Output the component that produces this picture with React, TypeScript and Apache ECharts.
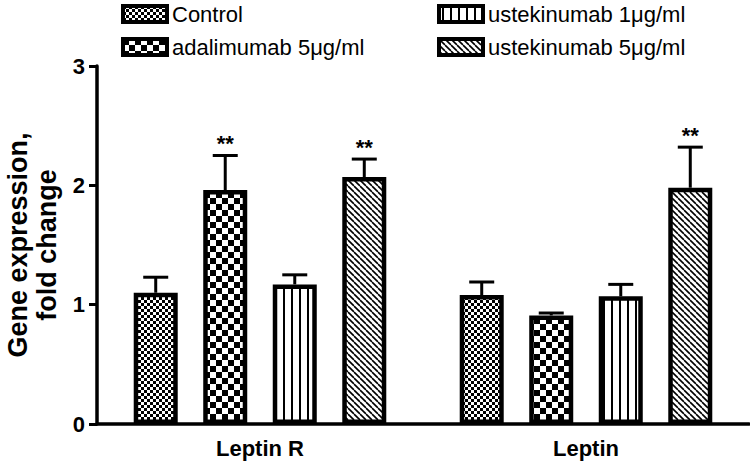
import React, { useEffect, useRef } from "react";
import * as echarts from "echarts";

const categories = ["Leptin R", "Leptin"];
const seriesNames = ["Control", "adalimumab 5μg/ml", "ustekinumab 1μg/ml", "ustekinumab 5μg/ml"];
const controlVals = [1.1, 1.08];
const adalimumabVals = [1.96, 0.91];
const ust1Vals = [1.17, 1.07];
const ust5Vals = [2.07, 1.98];
const controlErrTop = [1.23, 1.19];
const adalimumabErrTop = [2.25, 0.93];
const ust1ErrTop = [1.25, 1.17];
const ust5ErrTop = [2.22, 2.32];
const controlSig = ["", ""];
const adalimumabSig = ["**", ""];
const ust1Sig = ["", ""];
const ust5Sig = ["**", "**"];
const yTicks = [0, 1, 2, 3];

const FONT = "Arial, 'Liberation Sans', Helvetica, sans-serif";

function makePattern(kind: string) {
  const c = document.createElement("canvas");
  let w = 6, h = 6;
  if (kind === "fine") { w = 6; h = 6; }
  if (kind === "coarse") { w = 12; h = 12; }
  if (kind === "vert") { w = 8; h = 8; }
  if (kind === "diag") { w = 6; h = 6; }
  c.width = w; c.height = h;
  const ctx = c.getContext("2d")!;
  ctx.fillStyle = "#fff";
  ctx.fillRect(0, 0, w, h);
  ctx.fillStyle = "#000";
  if (kind === "fine") {
    ctx.fillRect(0, 0, 3, 3);
    ctx.fillRect(3, 3, 3, 3);
  } else if (kind === "coarse") {
    ctx.fillRect(0, 0, 6, 6);
    ctx.fillRect(6, 6, 6, 6);
  } else if (kind === "vert") {
    ctx.fillRect(3, 0, 2, 8);
  } else if (kind === "diag") {
    ctx.strokeStyle = "#000";
    ctx.lineWidth = 1.6;
    for (let k = -1; k <= 1; k++) {
      ctx.beginPath();
      ctx.moveTo(k * w, 0);
      ctx.lineTo(k * w + w, h);
      ctx.stroke();
    }
  }
  return { image: c, repeat: "repeat", imageWidth: w, imageHeight: h } as any;
}

export default function App() {
  const ref = useRef<HTMLDivElement>(null);
  useEffect(() => {
    if (!ref.current) return;
    const chart = echarts.init(ref.current, null, { renderer: "svg" });
    const patterns = [makePattern("fine"), makePattern("coarse"), makePattern("vert"), makePattern("diag")];
    const vals = [controlVals, adalimumabVals, ust1Vals, ust5Vals];
    const errs = [controlErrTop, adalimumabErrTop, ust1ErrTop, ust5ErrTop];
    const sigs = [controlSig, adalimumabSig, ust1Sig, ust5Sig];
    const barWidth = 44;
    const barGapPct = 58;
    const step = barWidth * (1 + barGapPct / 100);

    const barSeries = seriesNames.map((name, i) => ({
      name,
      type: "bar",
      data: vals[i],
      barWidth,
      barGap: barGapPct + "%",
      itemStyle: { color: patterns[i], borderColor: "#000", borderWidth: 4.5 },
      z: 2,
    }));

    const errSeries = seriesNames.map((name, i) => ({
      name: name + " err",
      type: "custom",
      z: 5,
      data: categories.map((_, ci) => [ci, errs[i][ci]]),
      renderItem: (params: any, api: any) => {
        const ci = api.value(0);
        const top = api.value(1);
        const di = params.dataIndex;
        const pTop = api.coord([ci, top]);
        const pBar = api.coord([ci, vals[i][di]]);
        const x = pTop[0] + (i - 1.5) * step;
        const children: any[] = [
          { type: "line", shape: { x1: x, y1: pBar[1], x2: x, y2: pTop[1] }, style: { stroke: "#000", lineWidth: 3 } },
          { type: "line", shape: { x1: x - 12.5, y1: pTop[1], x2: x + 12.5, y2: pTop[1] }, style: { stroke: "#000", lineWidth: 3 } },
        ];
        if (sigs[i][di]) {
          children.push({
            type: "text",
            style: {
              text: sigs[i][di],
              x,
              y: pTop[1] - 1,
              align: "center",
              verticalAlign: "bottom",
              font: `bold 22px ${FONT}`,
              fill: "#000",
            },
          });
        }
        return { type: "group", children };
      },
    }));

    const legendCommon = {
      orient: "vertical",
      top: 2,
      itemWidth: 44,
      itemHeight: 16,
      itemGap: 9,
      padding: 0,
      icon: "rect",
      textStyle: { fontSize: 22, fontFamily: FONT, color: "#000", lineHeight: 24 },
      itemStyle: { borderColor: "#000", borderWidth: 4 },
    };

    chart.setOption({
      animation: false,
      backgroundColor: "#fff",
      legend: [
        { ...legendCommon, left: 121, data: [seriesNames[0], seriesNames[1]] },
        { ...legendCommon, left: 437, data: [seriesNames[2], seriesNames[3]] },
      ],
      grid: { left: 97, right: 1, top: 66, bottom: 40, containLabel: false, outerBoundsMode: "none" },
      xAxis: {
        type: "category",
        data: categories,
        axisLine: { lineStyle: { color: "#000", width: 3.5 } },
        axisTick: { alignWithLabel: true, length: 9, lineStyle: { color: "#000", width: 3 } },
        axisLabel: { color: "#000", fontSize: 22, fontWeight: "bold", fontFamily: FONT, margin: 13 },
        splitLine: { show: false },
      },
      yAxis: {
        type: "value",
        min: yTicks[0],
        max: yTicks[yTicks.length - 1],
        interval: 1,
        name: "Gene expression,\nfold change",
        nameLocation: "middle",
        nameRotate: 90,
        nameGap: 35,
        nameTextStyle: { color: "#000", fontSize: 27, fontWeight: "bold", fontFamily: FONT, lineHeight: 29 },
        axisLine: { show: true, lineStyle: { color: "#000", width: 3.5 } },
        axisTick: { show: true, length: 8, lineStyle: { color: "#000", width: 3 } },
        axisLabel: { color: "#000", fontSize: 22, fontWeight: "bold", fontFamily: FONT, margin: 12 },
        splitLine: { show: false },
      },
      series: [...barSeries, ...errSeries],
    } as any);
    return () => chart.dispose();
  }, []);
  return <div ref={ref} style={{ width: 750, height: 464, position: "absolute", left: 0, top: 0 }} />;
}
